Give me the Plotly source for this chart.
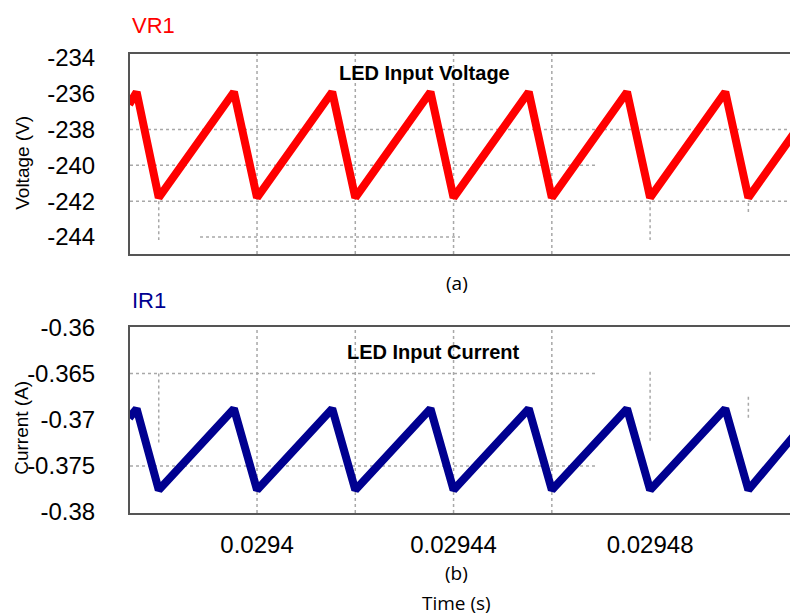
import plotly.graph_objects as go

# ---- data ----
t_vertices = [0.029374, 0.0293755, 0.02938, 0.0293953, 0.0294, 0.0294153, 0.02942,
              0.0294353, 0.02944, 0.0294553, 0.02946, 0.0294753, 0.02948,
              0.0294953, 0.0295, 0.0295101]
voltage = [-236.6, -235.9, -241.8, -235.9, -241.8, -235.9, -241.8,
           -235.9, -241.8, -235.9, -241.8, -235.9, -241.8,
           -235.9, -241.8, -237.9]
current = [-0.3698, -0.3688, -0.3776, -0.3688, -0.3776, -0.3688, -0.3776,
           -0.3688, -0.3776, -0.3688, -0.3776, -0.3688, -0.3776,
           -0.3688, -0.3776, -0.3712]

x_tickvals = [0.0294, 0.02944, 0.02948]
x_ticktext = ["0.0294", "0.02944", "0.02948"]
v_tickvals = [-234, -236, -238, -240, -242, -244]
v_ticktext = ["-234", "-236", "-238", "-240", "-242", "-244"]
i_tickvals = [-0.36, -0.365, -0.37, -0.375, -0.38]
i_ticktext = ["-0.36", "-0.365", "-0.37", "-0.375", "-0.38"]

# dotted grid segments in data units
v_grid_h = [(-238, None, None), (-240, None, 0.0294692), (-242, None, None), (-244, 0.0293884, 0.0294413)]
v_grid_v = [(0.02938, -242, -244.17), (0.0294, None, None), (0.02942, None, None),
            (0.02944, None, None), (0.02946, None, None), (0.02948, -242, -244.17),
            (0.0295, -242.1, -242.7)]
i_grid_h = [(-0.365, None, 0.0294692), (-0.375, None, 0.0294692)]
i_grid_v = [(0.02938, -0.365, -0.3725), (0.0294, None, None), (0.02942, None, None),
            (0.02944, None, None), (0.02946, None, None), (0.02948, -0.3648, -0.3725),
            (0.0295, -0.3675, -0.3698)]

x_range = [0.02937415, 0.0295101]
v_range = [-244.95, -233.78]
i_range = [-0.3801, -0.35995]

FONT = "Liberation Sans, Arial, sans-serif"
GRID = "#a8a8a8"
AXLINE = "#555555"

fig = go.Figure()
fig.add_trace(go.Scatter(x=t_vertices, y=voltage, mode="lines",
                         line=dict(color="#ff0000", width=8), xaxis="x", yaxis="y",
                         showlegend=False, hoverinfo="skip"))
fig.add_trace(go.Scatter(x=t_vertices, y=current, mode="lines",
                         line=dict(color="#000090", width=8), xaxis="x2", yaxis="y2",
                         showlegend=False, hoverinfo="skip"))

shapes = []
def add_grid(hlist, vlist, xref, yref, yr):
    for y, x0, x1 in hlist:
        shapes.append(dict(type="line", xref=xref, yref=yref,
                           x0=x0 if x0 is not None else x_range[0],
                           x1=x1 if x1 is not None else x_range[1],
                           y0=y, y1=y, line=dict(color=GRID, width=1.5, dash="dot"),
                           layer="below"))
    for x, y0, y1 in vlist:
        shapes.append(dict(type="line", xref=xref, yref=yref, x0=x, x1=x,
                           y0=y0 if y0 is not None else yr[0],
                           y1=y1 if y1 is not None else yr[1],
                           line=dict(color=GRID, width=1.5, dash="dot"), layer="below"))

add_grid(v_grid_h, v_grid_v, "x", "y", v_range)
add_grid(i_grid_h, i_grid_v, "x2", "y2", i_range)

ax_common = dict(showgrid=False, zeroline=False, showline=True, linecolor=AXLINE,
                 linewidth=2, ticks="", automargin=False,
                 tickfont=dict(family=FONT, size=24, color="black"))

# page body has an 8px margin, so the figure is 790x607 and offset by 8px
fig.update_layout(
    width=790, height=607,
    margin=dict(l=122, r=0, t=46, b=102),
    plot_bgcolor="white", paper_bgcolor="white",
    shapes=shapes,
    xaxis=dict(domain=[0, 1], anchor="y", range=x_range, mirror=True,
               showticklabels=False, tickvals=x_tickvals, **ax_common),
    yaxis=dict(domain=[0.5643, 1.0], anchor="x", range=v_range, tickvals=v_tickvals,
               ticktext=v_ticktext, ticklabelstandoff=28, **ax_common),
    xaxis2=dict(domain=[0, 1], anchor="y2", range=x_range, mirror=True,
                tickvals=x_tickvals, ticktext=x_ticktext, ticklabelstandoff=9, **ax_common),
    yaxis2=dict(domain=[0.0, 0.4052], anchor="x2", range=i_range, tickvals=i_tickvals,
                ticktext=i_ticktext, ticklabelstandoff=28, **ax_common),
)

ann = [
    dict(text="VR1", x=0.0, y=1.063, xanchor="left", font=dict(family=FONT, size=22, color="#ff0000")),
    dict(text="IR1", x=0.0, y=0.462, xanchor="left", font=dict(family=FONT, size=22, color="#000090")),
    dict(text="<b>LED Input Voltage</b>", x=0.4416, y=0.9586, font=dict(family=FONT, size=20, color="black")),
    dict(text="<b>LED Input Current</b>", x=0.455, y=0.3508, font=dict(family=FONT, size=20, color="black")),
    dict(text="(a)", x=0.489, y=0.5011, font=dict(family="Open Sans", size=19, color="black")),
    dict(text="(b)", x=0.489, y=-0.1307, font=dict(family="Open Sans", size=19, color="black")),
    dict(text="Time (s)", x=0.489, y=-0.1961, font=dict(family="Open Sans", size=19, color="black")),
    dict(text="Voltage (V)", x=-0.162, y=0.7625, textangle=-90, font=dict(family=FONT, size=19, color="black")),
    dict(text="Current (A)", x=-0.162, y=0.1852, textangle=-90, font=dict(family=FONT, size=19, color="black")),
]
for a in ann:
    a.update(xref="paper", yref="paper", showarrow=False, yanchor="middle")
    a.setdefault("xanchor", "center")
fig.update_layout(annotations=ann)

fig.write_html("out.html")
